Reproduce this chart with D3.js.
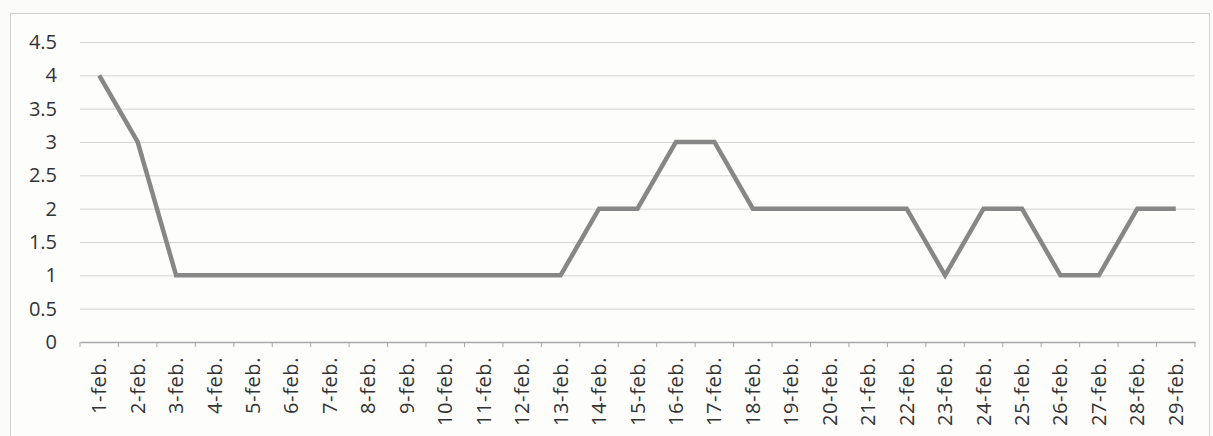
<!DOCTYPE html>
<html>
<head>
<meta charset="utf-8">
<script src="https://cdn.jsdelivr.net/npm/d3@7"></script>
<style>
  body { margin: 0; background: #fbfbfa; }
  svg { display: block; }
  text { font-family: "Open Sans", "Noto Sans", sans-serif; fill: #333; }
</style>
</head>
<body>
<script>
var w = 1213, h = 436;

// days of february
var days = ["1-feb.", "2-feb.", "3-feb.", "4-feb.", "5-feb.", "6-feb.", "7-feb.", "8-feb.",
  "9-feb.", "10-feb.", "11-feb.", "12-feb.", "13-feb.", "14-feb.", "15-feb.", "16-feb.",
  "17-feb.", "18-feb.", "19-feb.", "20-feb.", "21-feb.", "22-feb.", "23-feb.", "24-feb.",
  "25-feb.", "26-feb.", "27-feb.", "28-feb.", "29-feb."];
var values = [4, 3, 1, 1, 1, 1, 1, 1, 1, 1, 1, 1, 1, 2, 2, 3, 3, 2, 2, 2, 2, 2, 1, 2, 2, 1, 1, 2, 2];
var yTicks = [0, 0.5, 1, 1.5, 2, 2.5, 3, 3.5, 4, 4.5];

var plotLeft = 80, plotRight = 1195, plotTop = 42, plotBottom = 342;

var svg = d3.select("body")
    .append("svg")
    .attr("width", w)
    .attr("height", h);

// chart frame
svg.append("rect")
    .attr("x", 10.5).attr("y", 13.5)
    .attr("width", w - 14).attr("height", h - 10)
    .attr("fill", "#fdfdfc")
    .attr("stroke", "#cfcfcf");

var x = d3.scaleBand().domain(days).range([plotLeft, plotRight]);
var y = d3.scaleLinear().domain([0, 4.5]).range([plotBottom, plotTop]);

// gridlines
svg.append("g")
    .selectAll("line")
    .data(yTicks.filter(function (d) { return d > 0; }))
    .enter()
    .append("line")
    .attr("x1", plotLeft).attr("x2", plotRight)
    .attr("y1", function (d) { return y(d) + 0.5; })
    .attr("y2", function (d) { return y(d) + 0.5; })
    .attr("stroke", "#d4d4d4")
    .attr("stroke-width", 1);

// y axis labels
var yAxis = d3.axisLeft(y).tickValues(yTicks).tickSize(0).tickPadding(23)
    .tickFormat(function (d) { return String(d); });
var gy = svg.append("g").attr("transform", "translate(" + plotLeft + ",0)").call(yAxis);
gy.select(".domain").remove();
gy.selectAll("text")
    .style("font-size", "20px")
    .style("font-family", "'Open Sans', sans-serif")
    .attr("fill", "#2a2a2a");

// x axis
var xAxis = d3.axisBottom(x).tickSize(0).tickPadding(0);
var gx = svg.append("g").attr("transform", "translate(0," + plotBottom + ")").call(xAxis);
gx.select(".domain").attr("stroke", "#a8a8a8").attr("stroke-width", 1.5);
gx.selectAll("text")
    .style("font-size", "20px")
    .style("font-family", "'Open Sans', sans-serif")
    .style("letter-spacing", "0.6px")
    .attr("fill", "#2a2a2a")
    .attr("y", 0)
    .attr("text-anchor", "end")
    .attr("dy", "0.35em")
    .attr("transform", "translate(0,15) rotate(-90)");

// small tick marks between categories
svg.append("g")
    .selectAll("line")
    .data(days.concat(["end"]))
    .enter()
    .append("line")
    .attr("x1", function (d, i) { return plotLeft + i * x.step(); })
    .attr("x2", function (d, i) { return plotLeft + i * x.step(); })
    .attr("y1", plotBottom).attr("y2", plotBottom + 5)
    .attr("stroke", "#a8a8a8");

// the line
var line = d3.line()
    .x(function (d, i) { return x(days[i]) + x.bandwidth() / 2; })
    .y(function (d) { return y(d); });

svg.append("path")
    .datum(values)
    .attr("d", line)
    .attr("fill", "none")
    .attr("stroke", "#878787")
    .attr("stroke-width", 4.5)
    .attr("stroke-linejoin", "miter");
</script>
</body>
</html>
